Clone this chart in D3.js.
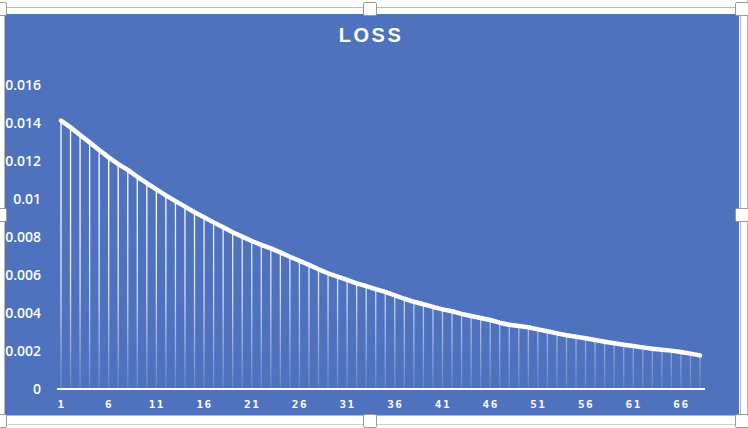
<!DOCTYPE html>
<html>
<head>
<meta charset="utf-8">
<style>
    body { margin: 0; background: #fff; }
    svg { display: block; }
</style>
</head>
<body>
    <div class="graph"></div>

    <script src="https://d3js.org/d3.v7.min.js"></script>
    <script>
        // loss per epoch
        var epochs = d3.range(1, 69)
        var loss = [
            0.01412, 0.01377, 0.01337, 0.01298, 0.01258, 0.01219, 0.01184, 0.01153, 0.01117, 0.01083,
            0.01051, 0.01019, 0.00989, 0.00960, 0.00930, 0.00904, 0.00877, 0.00851, 0.00825, 0.00802,
            0.00779, 0.00759, 0.00740, 0.00719, 0.00696, 0.00675, 0.00653, 0.00630, 0.00609, 0.00591,
            0.00574, 0.00556, 0.00542, 0.00526, 0.00511, 0.00493, 0.00475, 0.00459, 0.00446, 0.00432,
            0.00419, 0.00409, 0.00395, 0.00384, 0.00374, 0.00363, 0.00349, 0.00338, 0.00332, 0.00325,
            0.00314, 0.00304, 0.00293, 0.00283, 0.00275, 0.00267, 0.00258, 0.00249, 0.00241, 0.00233,
            0.00226, 0.00219, 0.00212, 0.00207, 0.00202, 0.00195, 0.00186, 0.00177
        ]
        var yTicks = [0, 0.002, 0.004, 0.006, 0.008, 0.01, 0.012, 0.014, 0.016]
        var yTickLabels = ['0', '0.002', '0.004', '0.006', '0.008', '0.01', '0.012', '0.014', '0.016']
        var xTicks = [1, 6, 11, 16, 21, 26, 31, 36, 41, 46, 51, 56, 61, 66]

        var width = 748,
            height = 428,
            blue = '#4e72be'

        var x = d3.scalePoint()
            .domain(epochs)
            .range([61, 700])

        var y = d3.scaleLinear()
            .domain([0, 0.016])
            .range([389, 85])

        var svg = d3.select('.graph').append('svg')
            .attr('width', width)
            .attr('height', height)

        // frame around the selected chart
        svg.append('rect').attr('width', width).attr('height', height).attr('fill', '#fff')
        var frame = svg.append('g').attr('stroke', '#b8b8b8').attr('stroke-width', 1)
        frame.append('line').attr('x1', 0).attr('x2', width).attr('y1', 7.5).attr('y2', 7.5)
        frame.append('line').attr('x1', 4.5).attr('x2', 4.5).attr('y1', 7).attr('y2', 416)
        frame.append('line').attr('x1', 740.5).attr('x2', 740.5).attr('y1', 7).attr('y2', 416)
        frame.append('line').attr('x1', 747.5).attr('x2', 747.5).attr('y1', 0).attr('y2', height)
        frame.append('line').attr('x1', 0).attr('x2', width).attr('y1', 415.5).attr('y2', 415.5)
        frame.append('line').attr('x1', 8).attr('x2', width).attr('y1', 424.5).attr('y2', 424.5)
            .attr('stroke', '#d0d0d0')

        svg.append('rect')
            .attr('x', 5).attr('y', 14)
            .attr('width', 734).attr('height', 401)
            .attr('fill', blue)

        var defs = svg.append('defs')
        var fade = defs.append('linearGradient')
            .attr('id', 'fade')
            .attr('gradientUnits', 'userSpaceOnUse')
            .attr('x1', 0).attr('x2', 0)
            .attr('y1', 200).attr('y2', y(0))
        fade.append('stop').attr('offset', 0).attr('stop-color', '#fff').attr('stop-opacity', 1)
        fade.append('stop').attr('offset', 0.5).attr('stop-color', '#fff').attr('stop-opacity', 0.75)
        fade.append('stop').attr('offset', 1).attr('stop-color', '#fff').attr('stop-opacity', 0.12)

        // title
        svg.append('text')
            .attr('x', 371).attr('y', 42)
            .attr('text-anchor', 'middle')
            .attr('fill', '#fff')
            .style('font', 'bold 20px "Liberation Sans", Arial, sans-serif')
            .style('letter-spacing', '2.5px')
            .text('LOSS')

        // y axis, labels only
        var y_axis = svg.append('g')
            .attr('transform', 'translate(41,0)')
            .call(d3.axisLeft(y).tickValues(yTicks).tickSize(0).tickPadding(0)
                .tickFormat(function (d, i) { return yTickLabels[i] }))
        y_axis.select('.domain').remove()
        y_axis.selectAll('text')
            .attr('fill', '#fff')
            .style('font', '600 14px "Open Sans", sans-serif')

        // x axis
        var x_axis = svg.append('g')
            .attr('transform', 'translate(0,' + y(0) + ')')
            .call(d3.axisBottom(x).tickValues(xTicks).tickSize(0).tickPadding(11))
        x_axis.select('.domain').remove()
        x_axis.selectAll('text')
            .attr('fill', '#fff')
            .style('font', 'bold 11px "DejaVu Sans Mono", monospace')
            .style('letter-spacing', '1.5px')

        // drop lines
        svg.append('g')
            .selectAll('line')
            .data(loss)
            .join('line')
            .attr('x1', function (d, i) { return x(epochs[i]) })
            .attr('x2', function (d, i) { return x(epochs[i]) })
            .attr('y1', function (d) { return y(d) })
            .attr('y2', y(0))
            .attr('stroke', 'url(#fade)')
            .attr('stroke-width', 1.3)

        svg.append('line')
            .attr('x1', 57).attr('x2', 705)
            .attr('y1', y(0)).attr('y2', y(0))
            .attr('stroke', '#fff')
            .attr('stroke-width', 2)

        var line = d3.line()
            .x(function (d, i) { return x(epochs[i]) })
            .y(function (d) { return y(d) })

        svg.append('path')
            .datum(loss)
            .attr('d', line)
            .attr('fill', 'none')
            .attr('stroke', '#fff')
            .attr('stroke-width', 4.5)
            .attr('stroke-linejoin', 'round')
            .attr('stroke-linecap', 'round')

        // selection handles
        var handles = [[0, 9], [370, 9], [742, 9], [0, 215], [742, 215], [0, 421], [370, 421], [742, 421]]
        svg.append('g')
            .selectAll('rect')
            .data(handles)
            .join('rect')
            .attr('x', function (d) { return d[0] - 6.5 })
            .attr('y', function (d) { return d[1] - 6.5 })
            .attr('width', 13).attr('height', 13)
            .attr('rx', 1.5)
            .attr('fill', '#fff')
            .attr('stroke', '#9a9a9a')
            .attr('stroke-width', 1)
    </script>
</body>

</html>
